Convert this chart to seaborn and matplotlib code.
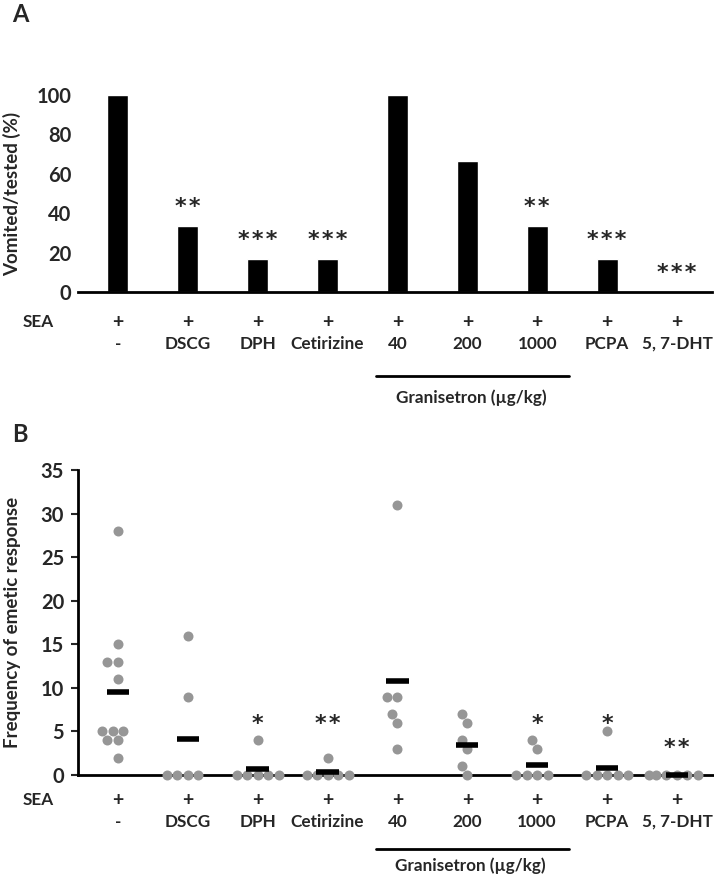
import numpy as np
import pandas as pd
import matplotlib
matplotlib.use('AGG')
import matplotlib.pyplot as plt
from matplotlib.transforms import offset_copy
import seaborn as sns

groups = ['-', 'DSCG', 'DPH', 'Cetirizine', '40', '200', '1000', 'PCPA', '5, 7-DHT']
vomited_pct = [100, 33.3, 16.7, 16.7, 100, 66.7, 33.3, 16.7, 0]
stars_a = ['', '**', '***', '***', '', '', '**', '***', '***']

freq_ctrl = [28, 15, 13, 13, 11, 5, 5, 5, 4, 4, 2]
freq_dscg = [16, 9, 0, 0, 0, 0]
freq_dph = [4, 0, 0, 0, 0, 0]
freq_cet = [2, 0, 0, 0, 0, 0]
freq_gra40 = [31, 9, 9, 7, 6, 3]
freq_gra200 = [7, 6, 4, 3, 1, 0]
freq_gra1000 = [4, 3, 0, 0, 0, 0]
freq_pcpa = [5, 0, 0, 0, 0, 0]
freq_dht = [0, 0, 0, 0, 0, 0]
stars_b = ['', '', '*', '**', '', '', '*', '*', '**']

sns.set_style('white')
plt.rcParams['font.family'] = ['Lato', 'DejaVu Sans']
plt.rcParams['font.weight'] = 'bold'
plt.rcParams['axes.labelweight'] = 'bold'

fig = plt.figure(figsize=(7.14, 8.74), dpi=100)
W, H = 714, 874
STAR_FONT = dict(family='DejaVu Sans', fontweight='bold', fontsize=16)


def px_axes(left, top, right, bottom):
  return fig.add_axes([left / W, 1 - bottom / H, (right - left) / W, (bottom - top) / H])


def spaced(s):
  # asterisks in the original sit a little apart
  return '\u200a'.join(s)


def label_rows(ax, dy_sea, dy_lab, dy_line, dy_gran):
  xt = ax.get_xaxis_transform()
  for i, g in enumerate(groups):
    ax.annotate('+', xy=(i, 0), xycoords=xt, xytext=(0, -dy_sea),
                textcoords='offset pixels', ha='center', va='center', fontsize=14)
    ax.annotate(g, xy=(i, 0), xycoords=xt, xytext=(0, -dy_lab),
                textcoords='offset pixels', ha='center', va='center', fontsize=12.3)
  ax.annotate('SEA', xy=(0, 0), xycoords='axes fraction', xytext=(-40, -dy_sea),
              textcoords='offset pixels', ha='center', va='center', fontsize=12.3)
  ax.plot([3.7, 6.45], [0, 0], color='black', linewidth=2, clip_on=False,
          transform=offset_copy(xt, fig=fig, y=-dy_line, units='dots'))
  ax.annotate('Granisetron (\u00b5g/kg)', xy=(5.05, 0), xycoords=xt,
              xytext=(0, -dy_gran), textcoords='offset pixels', ha='center', va='center', fontsize=12.3)


# ---- panel A: bars
axa = px_axes(78, 95, 712, 292)
sns.barplot(x=groups, y=vomited_pct, order=groups, color='black', saturation=1, width=0.3, ax=axa)
axa.set_xlim(-0.57, 8.5)
axa.set_ylim(0, 100)
axa.set_yticks([0, 20, 40, 60, 80, 100])
axa.set_xticks([])
axa.tick_params(axis='y', length=0, pad=5, labelsize=14.5)
for s in ['top', 'right', 'left']:
  axa.spines[s].set_visible(False)
axa.spines['bottom'].set_linewidth(2)
axa.spines['bottom'].set_color('black')
axa.set_ylabel('Vomited/tested (%)', fontsize=13.5)
axa.yaxis.set_label_coords(-0.09, 0.5)
for i, (v, s) in enumerate(zip(vomited_pct, stars_a)):
  if s:
    axa.annotate(spaced(s), xy=(i, v), xytext=(0, 13), textcoords='offset pixels',
                 ha='center', va='baseline', **STAR_FONT)
label_rows(axa, 30, 52, 84, 106)
fig.text(12 / W, 1 - 14 / H, 'A', fontsize=17, va='center')

# ---- panel B: individual animals + mean
freq_lists = [freq_ctrl, freq_dscg, freq_dph, freq_cet, freq_gra40, freq_gra200, freq_gra1000, freq_pcpa, freq_dht]
df = pd.DataFrame({
  'group': [g for g, vals in zip(groups, freq_lists) for _ in vals],
  'freq': [v for vals in freq_lists for v in vals],
})
axb = px_axes(78, 470, 714, 775)
sns.swarmplot(data=df, x='group', y='freq', order=groups, color='#969696', size=7.2, linewidth=0, ax=axb, zorder=3)
for c in axb.collections:
  c.set_clip_on(False)
means = df.groupby('group', sort=False)['freq'].mean().reindex(groups)
xpos = np.arange(len(groups))
axb.hlines(means.values, xpos - 0.16, xpos + 0.16, colors='black', linewidth=4, zorder=4, clip_on=False)
axb.set_xlim(-0.57, 8.53)
axb.set_ylim(0, 35)
axb.set_yticks(range(0, 36, 5))
axb.set_xticks([])
axb.set_xlabel('')
axb.tick_params(axis='y', length=5, width=1.5, direction='out', pad=5, labelsize=14.5, left=True)
for s in ['top', 'right']:
  axb.spines[s].set_visible(False)
for s in ['left', 'bottom']:
  axb.spines[s].set_linewidth(2)
  axb.spines[s].set_color('black')
axb.set_ylabel('Frequency of emetic response', fontsize=13.5)
axb.yaxis.set_label_coords(-0.09, 0.5)
for i, s in enumerate(stars_b):
  if s:
    y = 3.9 if groups[i] == '5, 7-DHT' else 6.6
    axb.annotate(spaced(s), xy=(i, y), xytext=(0, -13), textcoords='offset pixels',
                 ha='center', va='baseline', **STAR_FONT)
label_rows(axb, 25, 47, 74, 91)
fig.text(12 / W, 1 - 435 / H, 'B', fontsize=17, va='center')

plt.savefig('out.png', dpi=100)
